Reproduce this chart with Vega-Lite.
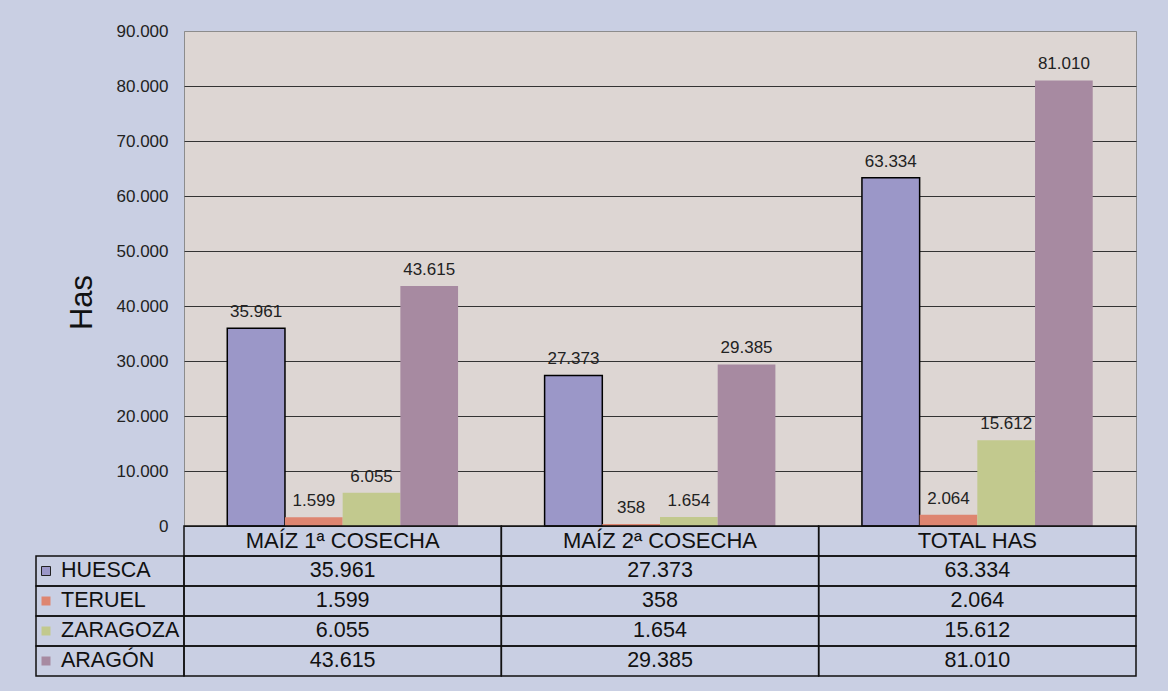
{
  "$schema": "https://vega.github.io/schema/vega-lite/v6.json",
  "background": "#c9cfe3",
  "padding": {"left": 35, "top": 21, "right": 32, "bottom": 16},
  "autosize": {"type": "pad"},
  "bounds": "flush",
  "spacing": 0,
  "columns": 2,
  "datasets": {
    "d": [
      {"cat": "MAÍZ 1ª COSECHA", "region": "HUESCA", "value": 35961},
      {"cat": "MAÍZ 1ª COSECHA", "region": "TERUEL", "value": 1599},
      {"cat": "MAÍZ 1ª COSECHA", "region": "ZARAGOZA", "value": 6055},
      {"cat": "MAÍZ 1ª COSECHA", "region": "ARAGÓN", "value": 43615},
      {"cat": "MAÍZ 2ª COSECHA", "region": "HUESCA", "value": 27373},
      {"cat": "MAÍZ 2ª COSECHA", "region": "TERUEL", "value": 358},
      {"cat": "MAÍZ 2ª COSECHA", "region": "ZARAGOZA", "value": 1654},
      {"cat": "MAÍZ 2ª COSECHA", "region": "ARAGÓN", "value": 29385},
      {"cat": "TOTAL HAS", "region": "HUESCA", "value": 63334},
      {"cat": "TOTAL HAS", "region": "TERUEL", "value": 2064},
      {"cat": "TOTAL HAS", "region": "ZARAGOZA", "value": 15612},
      {"cat": "TOTAL HAS", "region": "ARAGÓN", "value": 81010}
    ]
  },
  "resolve": {"scale": {"x": "independent", "y": "independent", "color": "shared"}},
  "concat": [
    {
      "width": 148,
      "height": 495,
      "data": {"values": [{}]},
      "mark": {"type": "text", "text": ""},
      "encoding": {}
    },
    {
      "width": 952,
      "height": 495,
      "data": {"name": "d"},
      "view": {"fill": "#ddd6d3", "stroke": "#8c8c8c", "strokeWidth": 1},
      "encoding": {
        "x": {"field": "cat", "type": "nominal", "sort": ["MAÍZ 1ª COSECHA", "MAÍZ 2ª COSECHA", "TOTAL HAS"], "scale": {"paddingInner": 0, "paddingOuter": 0}, "axis": null},
        "xOffset": {"field": "region", "type": "nominal", "sort": ["HUESCA", "TERUEL", "ZARAGOZA", "ARAGÓN"], "scale": {"paddingInner": 0, "paddingOuter": 0.75}},
        "y": {
          "field": "value", "type": "quantitative",
          "scale": {"domain": [0, 90000], "nice": false},
          "axis": {
            "values": [0, 10000, 20000, 30000, 40000, 50000, 60000, 70000, 80000, 90000],
            "format": ",d",
            "grid": true,
            "gridColor": {"condition": {"test": "datum.value === 90000", "value": "#8c8c8c"}, "value": "#333333"},
            "gridWidth": 1,
            "gridOpacity": 1,
            "domain": false,
            "ticks": false,
            "labelFontSize": 17,
            "labelColor": "#222222",
            "labelPadding": 16,
            "title": "Has",
            "titleFontSize": 31,
            "titleFontWeight": "normal",
            "titleColor": "#111111",
            "titleAngle": -90,
            "titleX": -86,
            "titleY": 271,
            "titleAlign": "center",
            "titleBaseline": "bottom"
          }
        }
      },
      "layer": [
        {
          "mark": {"type": "bar", "strokeWidth": 1.5},
          "encoding": {
            "color": {
              "field": "region", "type": "nominal",
              "scale": {"domain": ["HUESCA", "TERUEL", "ZARAGOZA", "ARAGÓN"], "range": ["#9b97c8", "#de8570", "#c2c98e", "#a78aa1"]},
              "legend": null
            },
            "stroke": {"condition": {"test": "datum.region === 'HUESCA'", "value": "#000000"}, "value": "transparent"}
          }
        },
        {
          "mark": {"type": "text", "dy": -11, "baseline": "alphabetic", "fontSize": 17, "color": "#222222"},
          "encoding": {
            "text": {"field": "value", "type": "quantitative", "format": ",d"}
          }
        }
      ]
    },
    {
      "width": 148,
      "height": 150,
      "data": {"name": "d"},
      "transform": [{"filter": "datum.cat === 'TOTAL HAS'"}],
      "encoding": {
        "y": {"field": "region", "type": "nominal", "scale": {"domain": ["__h", "HUESCA", "TERUEL", "ZARAGOZA", "ARAGÓN"], "paddingInner": 0, "paddingOuter": 0}, "axis": null}
      },
      "layer": [
        {
          "mark": {"type": "rect", "filled": false, "color": "#111111", "strokeWidth": 1.5}
        },
        {
          "mark": {"type": "point", "shape": "square", "size": 81, "filled": true, "opacity": 1, "strokeWidth": 1},
          "encoding": {
            "x": {"datum": "sym", "scale": {"type": "point", "domain": ["sym", "txt"], "range": [10, 25], "padding": 0}, "axis": null},
            "color": {"field": "region", "type": "nominal", "legend": null},
            "stroke": {"condition": {"test": "datum.region === 'HUESCA'", "value": "#222222"}, "value": "transparent"}
          }
        },
        {
          "mark": {"type": "text", "align": "left", "baseline": "middle", "fontSize": 21.5, "color": "#111111"},
          "encoding": {
            "x": {"datum": "txt"},
            "text": {"field": "region", "type": "nominal"}
          }
        }
      ]
    },
    {
      "width": 952,
      "height": 150,
      "data": {"name": "d"},
      "encoding": {
        "x": {"field": "cat", "type": "nominal", "sort": ["MAÍZ 1ª COSECHA", "MAÍZ 2ª COSECHA", "TOTAL HAS"], "scale": {"paddingInner": 0, "paddingOuter": 0}, "axis": null}
      },
      "layer": [
        {
          "mark": {"type": "rect", "filled": false, "color": "#111111", "strokeWidth": 1.5},
          "encoding": {
            "y": {"field": "region", "type": "nominal", "scale": {"domain": ["__h", "HUESCA", "TERUEL", "ZARAGOZA", "ARAGÓN"], "paddingInner": 0, "paddingOuter": 0}, "axis": null}
          }
        },
        {
          "mark": {"type": "text", "baseline": "middle", "fontSize": 21.5, "color": "#111111"},
          "encoding": {
            "y": {"field": "region", "type": "nominal"},
            "text": {"field": "value", "type": "quantitative", "format": ",d"}
          }
        },
        {
          "transform": [{"filter": "datum.region === 'HUESCA'"}],
          "mark": {"type": "rect", "filled": false, "color": "#111111", "strokeWidth": 1.5},
          "encoding": {
            "y": {"datum": "__h"}
          }
        },
        {
          "transform": [{"filter": "datum.region === 'HUESCA'"}],
          "mark": {"type": "text", "baseline": "middle", "fontSize": 22, "color": "#111111"},
          "encoding": {
            "y": {"datum": "__h"},
            "text": {"field": "cat", "type": "nominal"}
          }
        }
      ]
    }
  ],
  "config": {
    "font": "Liberation Sans",
    "view": {"stroke": null},
    "locale": {"number": {"decimal": ",", "thousands": ".", "grouping": [3], "currency": ["", " €"]}}
  }
}
